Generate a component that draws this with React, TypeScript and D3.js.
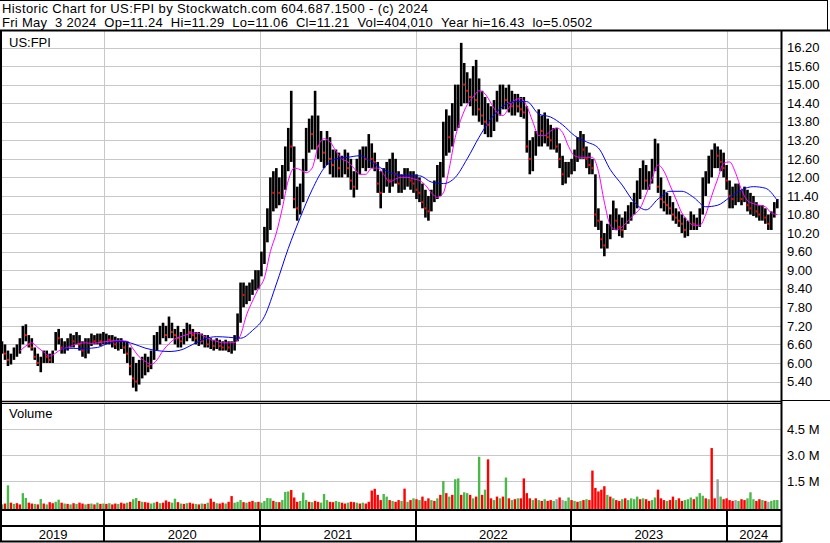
import * as d3 from 'd3'

// weekly bars, first week starts Mon May 6 2019
const startDate = new Date(2019, 4, 6)
const endDate = new Date(2024, 4, 3)

const headerLines = [
  'Historic Chart for US:FPI by Stockwatch.com 604.687.1500 - (c) 2024',
  'Fri May  3 2024  Op=11.24  Hi=11.29  Lo=11.06  Cl=11.21  Vol=404,010  Year hi=16.43  lo=5.0502',
]
const headerSpacing = [0.38, 0.28]

const years = ['2019', '2020', '2021', '2022', '2023', '2024']
const priceTicks = [5.4, 6.0, 6.6, 7.2, 7.8, 8.4, 9.0, 9.6, 10.2, 10.8, 11.4, 12.0, 12.6, 13.2, 13.8, 14.4, 15.0, 15.6, 16.2]
const volTicks = [1500, 3000, 4500]
const volTickLabels = ['1.5 M', '3.0 M', '4.5 M']

const priceHi = [
  // 2019
  6.7, 6.6, 6.4, 6.3, 6.5, 6.6, 6.8, 7.2, 7.25, 6.9,
  6.8, 6.5, 6.3, 6.2, 6.4, 6.4, 6.3, 6.4, 7.0, 7.1,
  6.8, 6.7, 6.8, 6.95, 6.9, 7.0, 6.9, 6.7, 6.8, 6.8,
  6.95, 6.9, 6.95, 6.95, 7.0,
  // 2020
  6.95, 6.9, 6.9, 6.85, 6.8,
  6.8, 6.7, 6.7, 6.5, 6.2, 6.0, 6.1, 6.2, 6.3, 6.2,
  6.4, 6.9, 7.0, 7.2, 7.3, 7.2, 7.5, 7.3, 7.1, 7.2,
  7.0, 7.1, 7.3, 7.25, 7.1, 7.0, 7.0, 6.95, 6.9, 6.9,
  6.8, 6.75, 6.8, 6.75, 6.7, 6.75, 6.7, 6.7, 6.9, 7.6,
  8.6, 8.6, 8.5, 8.6, 8.7, 9.0, 9.0,
  // 2021
  9.6, 10.4, 11.0,
  12.0, 12.2, 12.3, 12.0, 12.4, 13.0, 13.6, 14.8, 13.0, 11.7,
  11.8, 12.6, 13.6, 13.9, 14.0, 14.8, 14.0, 13.5, 13.2, 13.5,
  13.3, 12.9, 12.9, 12.8, 12.7, 12.9, 12.8, 12.6, 12.2, 12.6,
  12.9, 13.0, 13.0, 13.4, 13.1, 12.8, 12.5, 12.2, 12.3, 12.5,
  12.6, 12.8, 12.6, 12.2, 12.1, 12.3, 12.3, 12.2, 12.2,
  // 2022
  12.1, 12.0, 11.8, 11.6, 11.4, 11.6, 11.9, 12.4, 12.5, 13.8, 14.2,
  14.0, 14.4, 15.0, 15.0, 16.35, 15.7, 15.4, 15.2, 15.6, 15.8,
  15.2, 14.8, 14.6, 14.4, 14.3, 14.5, 14.8, 15.0, 15.0, 14.9,
  15.0, 14.8, 14.7, 14.7, 14.6, 14.6, 14.3, 13.2, 13.3, 13.5,
  14.2, 14.0, 14.1, 13.9, 13.7, 13.6, 13.6, 13.1, 12.7, 12.5, 12.5,
  // 2023
  12.6, 12.9, 13.3, 13.5, 13.4, 13.0, 12.8, 12.6, 12.1,
  11.0, 10.6, 10.2, 10.5, 10.8, 11.25, 11.0, 10.8, 10.7, 10.9,
  11.1, 11.2, 11.5, 11.9, 12.3, 12.55, 12.4, 12.2, 12.6, 13.25,
  13.1, 12.0, 11.6, 11.5, 11.4, 11.2, 11.0, 10.9, 10.8, 10.7,
  10.6, 10.9, 10.8, 10.7, 11.0, 12.0, 12.2, 12.7, 12.9, 13.1,
  13.0, 12.9, 12.8,
  // 2024
  12.4, 11.9, 11.7, 11.8, 11.8, 11.6, 11.7, 11.6, 11.5, 11.4,
  11.2, 11.1, 11.1, 11.0, 10.8, 10.9, 11.2, 11.3,
]

const priceLo = [
  // 2019
  6.3, 6.1, 5.9, 5.95, 6.1, 6.2, 6.3, 6.6, 6.7, 6.5,
  6.4, 6.1, 5.9, 5.7, 6.0, 6.0, 6.0, 6.0, 6.4, 6.6,
  6.3, 6.3, 6.4, 6.5, 6.5, 6.6, 6.4, 6.2, 6.15, 6.3,
  6.55, 6.6, 6.6, 6.55, 6.6,
  // 2020
  6.6, 6.6, 6.5, 6.45, 6.4,
  6.45, 6.3, 6.0, 5.6, 5.2, 5.08, 5.3, 5.5, 5.6, 5.7,
  5.8, 6.1, 6.4, 6.6, 6.8, 6.7, 6.8, 6.8, 6.6, 6.5,
  6.5, 6.6, 6.7, 6.8, 6.7, 6.6, 6.55, 6.6, 6.5, 6.5,
  6.45, 6.4, 6.45, 6.4, 6.4, 6.4, 6.35, 6.3, 6.4, 6.7,
  7.3, 7.8, 7.9, 8.0, 8.2, 8.35, 8.4,
  // 2021
  8.8, 9.2, 9.9,
  10.3, 10.9, 11.0, 11.1, 11.3, 11.6, 12.2, 12.5, 11.0, 10.6,
  10.8, 11.2, 12.2, 12.8, 12.9, 12.9, 12.6, 12.5, 12.3, 12.4,
  12.1, 12.0, 12.0, 12.0, 12.0, 12.1, 12.0, 11.6, 11.35, 11.6,
  12.1, 12.3, 12.2, 12.3, 12.3, 12.2, 11.5, 11.0, 11.5, 11.7,
  11.5, 11.7, 11.8, 11.5, 11.5, 11.6, 11.7, 11.6, 11.5,
  // 2022
  11.3, 11.2, 11.0, 10.7, 10.6, 10.9, 11.2, 11.3, 11.4, 12.0, 12.7,
  12.8, 13.0, 13.5, 13.6, 14.3, 14.4, 14.4, 14.3, 14.0, 14.0,
  13.8, 13.7, 13.4, 13.3, 13.3, 13.5, 13.8, 14.0, 14.2, 14.2,
  14.1, 14.0, 14.0, 14.1, 13.95, 13.9, 12.8, 12.1, 12.2, 12.7,
  13.0, 13.0, 13.1, 13.0, 12.9, 12.9, 12.8, 12.3, 11.75, 11.8, 12.0,
  // 2023
  12.1, 12.2, 12.5, 12.6, 12.6, 12.3, 12.1, 12.1, 10.4,
  10.3, 9.7, 9.45, 9.7, 10.0, 10.3, 10.3, 10.1, 10.05, 10.3,
  10.5, 10.6, 10.8, 11.0, 11.3, 11.6, 11.6, 11.6, 11.8, 12.2,
  11.5, 11.0, 10.9, 10.8, 10.8, 10.6, 10.5, 10.4, 10.2, 10.05,
  10.1, 10.3, 10.3, 10.3, 10.4, 10.8, 11.4, 11.8, 12.0, 12.3,
  12.3, 12.2, 12.0,
  // 2024
  11.6, 11.0, 11.0, 11.1, 11.2, 11.1, 11.2, 10.9, 10.8, 10.75,
  10.7, 10.6, 10.6, 10.5, 10.3, 10.3, 10.7, 11.0,
]

const priceClose = [
  // 2019
  6.5, 6.3, 6.1, 6.15, 6.4, 6.5, 6.7, 7.0, 6.9, 6.6,
  6.5, 6.2, 6.0, 6.0, 6.3, 6.2, 6.1, 6.3, 6.9, 6.8,
  6.5, 6.5, 6.7, 6.8, 6.7, 6.8, 6.6, 6.4, 6.5, 6.6,
  6.8, 6.7, 6.8, 6.7, 6.8,
  // 2020
  6.8, 6.75, 6.7, 6.6, 6.6,
  6.6, 6.5, 6.3, 5.9, 5.5, 5.4, 5.8, 5.9, 6.0, 5.9,
  6.2, 6.7, 6.8, 7.0, 7.1, 6.9, 7.2, 7.0, 6.9, 6.8,
  6.7, 6.9, 7.1, 7.0, 6.9, 6.8, 6.8, 6.7, 6.7, 6.6,
  6.6, 6.55, 6.6, 6.55, 6.5, 6.6, 6.5, 6.5, 6.8, 7.4,
  8.3, 8.2, 8.3, 8.4, 8.5, 8.8, 8.9,
  // 2021
  9.4, 10.1, 10.6,
  11.6, 11.5, 11.8, 11.5, 12.1, 12.6, 13.2, 13.0, 11.3, 11.0,
  11.4, 12.3, 13.3, 13.5, 13.4, 13.7, 13.0, 13.0, 12.8, 13.0,
  12.6, 12.4, 12.5, 12.3, 12.4, 12.6, 12.3, 11.9, 11.7, 12.3,
  12.6, 12.7, 12.6, 12.9, 12.6, 12.5, 11.8, 11.5, 12.0, 12.2,
  11.9, 12.4, 12.1, 11.8, 11.9, 12.0, 12.1, 11.9, 11.8,
  // 2022
  11.6, 11.5, 11.2, 11.0, 10.9, 11.3, 11.5, 12.0, 12.2, 13.4, 13.5,
  13.3, 13.9, 14.5, 14.6, 15.3, 15.0, 14.8, 14.6, 14.8, 14.5,
  14.2, 14.0, 13.8, 13.7, 13.9, 14.1, 14.4, 14.6, 14.6, 14.5,
  14.4, 14.3, 14.4, 14.3, 14.2, 14.1, 13.0, 12.6, 12.9, 13.2,
  13.7, 13.5, 13.6, 13.3, 13.2, 13.2, 13.0, 12.6, 12.1, 12.2, 12.3,
  // 2023
  12.4, 12.6, 13.0, 13.1, 12.9, 12.6, 12.4, 12.3, 10.8,
  10.6, 10.0, 9.8, 10.2, 10.5, 10.8, 10.6, 10.4, 10.3, 10.7,
  10.9, 11.0, 11.3, 11.6, 12.0, 12.2, 11.9, 11.9, 12.3, 12.9,
  11.7, 11.3, 11.2, 11.1, 11.0, 10.8, 10.7, 10.6, 10.5, 10.3,
  10.4, 10.6, 10.5, 10.5, 10.8, 11.7, 11.9, 12.4, 12.6, 12.8,
  12.7, 12.5, 12.3,
  // 2024
  11.9, 11.4, 11.3, 11.4, 11.5, 11.3, 11.4, 11.1, 11.0, 11.0,
  10.9, 10.8, 10.8, 10.7, 10.5, 10.7, 11.0, 11.21,
]

// largest daily volume of each week, thousands of shares
const volume = [
  // 2019
  150, 200, 1250, 250, 180, 220, 150, 800, 520, 250,
  200, 180, 150, 460, 200, 150, 280, 220, 300, 420,
  250, 200, 180, 150, 220, 180, 250, 200, 150, 180,
  200, 150, 250, 180, 200,
  // 2020
  180, 220, 150, 200, 180,
  250, 200, 250, 300, 450, 520, 350, 300, 280, 250,
  200, 250, 300, 220, 250, 380, 300, 250, 480, 280,
  200, 180, 220, 250, 200, 180, 150, 200, 180, 250,
  480, 300, 220, 200, 250, 200, 300, 630, 250, 300,
  400, 280, 250, 300, 350, 280, 300,
  // 2021
  250, 350, 520,
  500, 350, 300, 280, 400, 870, 900, 980, 550, 300,
  350, 830, 400, 300, 280, 350, 300, 250, 750, 400,
  300, 280, 350, 300, 250, 200, 250, 300, 280, 250,
  200, 250, 200, 300, 950, 1050, 700, 400, 750, 600,
  400, 350, 300, 400, 350, 1060, 300, 400, 500,
  // 2022
  450, 400, 600, 350, 500, 400, 350, 500, 700, 1500, 800,
  600, 700, 1600, 1650, 700, 850, 800, 700, 500, 600,
  2900, 700, 1000, 2750, 500, 400, 600, 500, 600, 1700,
  500, 400, 450, 500, 500, 1650, 800, 500, 400, 500,
  400, 350, 450, 350, 400, 350, 450, 550, 400, 350, 550,
  // 2023
  400, 350, 300, 350, 400, 450, 400, 2100, 1100,
  900, 1000, 1200, 700, 600, 500, 400, 350, 450, 500,
  400, 500, 450, 600, 450, 500, 450, 350, 400, 550,
  1000, 500, 400, 350, 400, 600, 400, 500, 350, 400,
  450, 550, 450, 600, 800, 650, 500, 450, 3400, 500,
  1600, 600, 450,
  // 2024
  500, 400, 350, 400, 350, 450, 400, 500, 850, 450,
  350, 450, 400, 350, 300, 350, 400, 404,
]

// g = up, r = down, n = unchanged
const volumeDir = (
  'grgrgrrggr' + 'rgrgrgrrgg' + 'rgrgrgrrgr' + 'grgrg' +
  'rgrrg' + 'rrgrggrgrr' + 'ggrgrrrggr' + 'grgrrgrgrg' + 'rrgrrgrrgg' + 'grgrrgr' +
  'ggg' + 'grgrgggrrr' + 'gggrgrrggg' + 'rrggrrgrrg' + 'rgrrrrrrgg' + 'rgrrgrgrg' +
  'rgrrrgrgrgr' + 'grggrggrgr' + 'grgrrgrgrg' + 'rgrgrrrrgr' + 'grgrrgnrngg' +
  'rgrgrgrrr' + 'rrrgrgrrgr' + 'ggggrgrrgg' + 'rrrgrrgrrg' + 'ggrgggrgrr' + 'ngr' +
  'rrrngrrggg' + 'rrgrnggg'
).split('')

// 50 day average, every 2nd week from week 6
const maFast = [
  6.38, 6.55, 6.65, 6.5, 6.35, 6.22, 6.32, 6.45, 6.5, 6.58,
  6.63, 6.65, 6.63, 6.65, 6.68, 6.7, 6.72, 6.72, 6.7, 6.45,
  6.2, 6.05, 5.95, 6.1, 6.4, 6.62, 6.78, 6.85, 6.92, 6.97,
  6.95, 6.85, 6.75, 6.7, 6.65, 6.65, 6.66, 6.9, 7.55, 8.0,
  8.4, 8.75, 9.6, 10.2, 11.0, 11.9, 12.3, 12.25, 12.15, 12.3,
  13.0, 13.25, 13.15, 12.85, 12.6, 12.5, 12.3, 12.1, 12.1, 12.3,
  12.3, 12.1, 11.85, 11.95, 12.0, 12.0, 11.95, 11.9, 11.75, 11.5,
  11.35, 11.5, 12.3, 13.3, 13.9, 14.35, 14.6, 14.8, 14.7, 14.4,
  14.1, 14.0, 14.25, 14.5, 14.55, 14.3, 13.8, 13.35, 13.35, 13.5,
  13.6, 13.45, 13.0, 12.7, 12.65, 12.65, 12.65, 12.2, 11.2, 10.45,
  10.3, 10.4, 10.6, 10.8, 11.0, 11.45, 11.95, 12.4, 12.2, 11.75,
  11.3, 10.85, 10.6, 10.45, 10.45, 10.8, 11.4, 11.95, 12.45, 12.5,
  12.15, 11.6, 11.25, 11.15, 11.1, 11.05, 10.85, 10.8,
]

// 100 day average, every 4th week from week 20
const maSlow = [
  6.48, 6.47, 6.47, 6.5, 6.65, 6.7, 6.62, 6.48, 6.4, 6.37,
  6.42, 6.6, 6.78, 6.85, 6.83, 6.8, 7.05, 7.5, 8.55, 9.7,
  10.7, 11.6, 12.3, 12.6, 12.65, 12.7, 12.5, 12.25, 12.1, 12.05,
  12.05, 11.85, 11.8, 12.0, 12.6, 13.3, 13.9, 14.3, 14.45, 14.45,
  14.05, 13.95, 13.7, 13.35, 13.15, 12.95, 12.25, 11.75, 11.2, 10.95,
  11.3, 11.55, 11.55, 11.35, 11.05, 11.1, 11.35, 11.6, 11.7, 11.65,
  11.25,
]

const weekDate = (i: number) => d3.timeDay.offset(startDate, i * 7)

const W = 830
const H = 543
const plotL = 2
const plotR = 781
const priceTop = 31
const priceBot = 401
const volTop = 404
const volBot = 509
const font = "Arial, 'Liberation Sans', Helvetica, sans-serif"
const grid = '#c8c8c8'
const green = '#4cb84c'

export default function App() {
  const x = d3.scaleTime().domain([startDate, endDate]).range([2, 779])
  const yP = d3.scaleLinear().domain([5.4, 16.2]).range([381.5, 47.5])
  const yV = d3.scaleLinear().domain([0, 6000]).range([507, 403])

  const bounds = years.slice(1).map(y => x(new Date(+y, 0, 1)))
  const edges = [plotL, ...bounds, plotR]

  const fastLine = d3.line<number>()
    .x((_, i) => x(weekDate(6 + i * 2)))
    .y(d => yP(d))
    .curve(d3.curveMonotoneX)
  const slowLine = d3.line<number>()
    .x((_, i) => x(weekDate(20 + i * 4)))
    .y(d => yP(d))
    .curve(d3.curveMonotoneX)

  return (
    <svg width={W} height={H} style={{ position: 'absolute', left: 0, top: 0, background: '#fff' }}
      fontFamily={font} fontSize={13}>
      <rect width={W} height={H} fill="#fff" />

      {/* header */}
      {headerLines.map((t, i) => (
        <text key={i} x={2} y={13 + i * 13.5} fill="#000" letterSpacing={headerSpacing[i]}>
          {t.replace(/ {2}/g, ' \u00a0')}
        </text>
      ))}

      {/* price grid */}
      {priceTicks.map(t => (
        <line key={t} x1={plotL} x2={plotR} y1={Math.round(yP(t)) + 0.5} y2={Math.round(yP(t)) + 0.5} stroke={grid} />
      ))}
      {bounds.map((b, i) => (
        <g key={i}>
          <line x1={Math.round(b) + 0.5} x2={Math.round(b) + 0.5} y1={priceTop} y2={priceBot} stroke={grid} />
          <line x1={Math.round(b) + 0.5} x2={Math.round(b) + 0.5} y1={volTop} y2={volBot} stroke={grid} />
        </g>
      ))}
      {volTicks.map(t => (
        <line key={t} x1={plotL} x2={plotR} y1={Math.round(yV(t)) + 0.5} y2={Math.round(yV(t)) + 0.5} stroke={grid} />
      ))}

      {/* price bars */}
      {priceHi.map((h, i) => {
        const cx = x(weekDate(i))
        return (
          <rect key={i} x={cx - 1.3} width={2.6} y={yP(h)} height={Math.max(1, yP(priceLo[i]) - yP(h))} fill="#000" />
        )
      })}
      {priceClose.map((c, i) => (i > 0 && c < priceClose[i - 1]) ? (
        <rect key={i} x={x(weekDate(i)) - 1} y={yP(c) - 1} width={2} height={2} fill="#f00" />
      ) : null)}

      {/* moving averages */}
      <path d={fastLine(maFast) || ''} fill="none" stroke="#ff00ff" strokeWidth={1} />
      <path d={slowLine(maSlow) || ''} fill="none" stroke="#0000ff" strokeWidth={1} />

      {/* volume */}
      {volume.map((v, i) => {
        const cx = x(weekDate(i))
        const c = volumeDir[i] === 'g' ? green : volumeDir[i] === 'r' ? '#ff0000' : '#a0a0a0'
        return <rect key={i} x={cx - 1.2} width={2.4} y={yV(v)} height={volBot - yV(v)} fill={c} />
      })}

      {/* labels */}
      <text x={9} y={47} fill="#000">US:FPI</text>
      <text x={9} y={418} fill="#000">Volume</text>
      {priceTicks.map(t => (
        <text key={t} x={787} y={yP(t)} dy="0.36em" fill="#000">{t.toFixed(2)}</text>
      ))}
      {volTicks.map((t, i) => (
        <text key={t} x={787} y={yV(t)} dy="0.36em" fill="#000">{volTickLabels[i]}</text>
      ))}
      {years.map((yr, i) => (
        <text key={yr} x={(edges[i] + edges[i + 1]) / 2} y={539} textAnchor="middle" fill="#000">{yr}</text>
      ))}

      {/* frame */}
      <line x1={0} x2={828} y1={0.5} y2={0.5} stroke="#000" />
      <line x1={827.5} x2={827.5} y1={0} y2={31} stroke="#000" />
      <line x1={0} x2={W} y1={30.5} y2={30.5} stroke="#000" strokeWidth={2} />
      <line x1={1} x2={1} y1={30} y2={542} stroke="#000" strokeWidth={2} />
      <line x1={plotR + 0.5} x2={plotR + 0.5} y1={30} y2={542} stroke="#000" strokeWidth={2} />
      <line x1={0} x2={plotR} y1={401.5} y2={401.5} stroke="#000" strokeWidth={1.5} />
      <line x1={0} x2={plotR} y1={403.5} y2={403.5} stroke="#000" />
      <line x1={plotR} x2={W} y1={400.5} y2={400.5} stroke="#000" />
      <line x1={0} x2={plotR} y1={510} y2={510} stroke="#000" strokeWidth={2} />
      <line x1={0} x2={plotR} y1={526} y2={526} stroke="#000" strokeWidth={2} />
      <line x1={0} x2={plotR} y1={541.5} y2={541.5} stroke="#000" strokeWidth={2} />
      {bounds.map((b, i) => (
        <line key={i} x1={Math.round(b)} x2={Math.round(b)} y1={510} y2={542} stroke="#000" strokeWidth={2} />
      ))}
    </svg>
  )
}
